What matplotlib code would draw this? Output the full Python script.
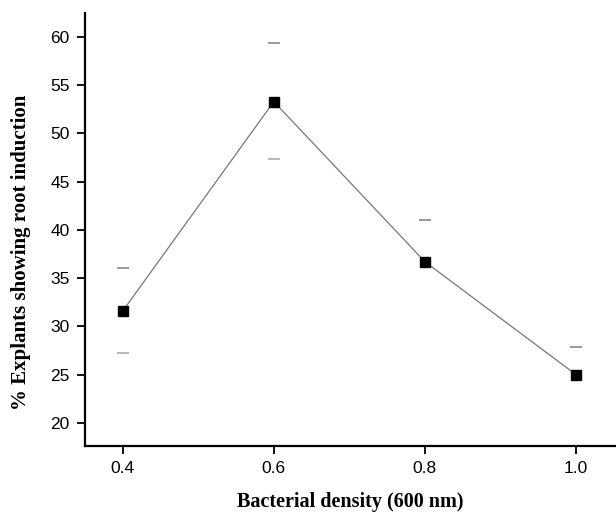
import numpy as np
import matplotlib
matplotlib.use("Agg")
import matplotlib.pyplot as plt

# bacterial density vs root induction
density = [0.4, 0.6, 0.8, 1.0]
pct_root = [31.6, 53.3, 36.7, 25.0]
err_upper = [36.1, 59.4, 41.0, 27.9]
err_lower = [27.2, 47.3, np.nan, np.nan]  # lower caps not visible for last two
x_ticks = [0.4, 0.6, 0.8, 1.0]
y_ticks = [20, 25, 30, 35, 40, 45, 50, 55, 60]

fig = plt.figure(figsize=(6.16, 5.15), dpi=100)
ax = fig.add_axes([0.138, 0.134, 0.862, 0.841])

ax.plot(density, pct_root, color="#777777", lw=0.9, zorder=2)
ax.plot(density, pct_root, linestyle="none", marker="s", ms=7.5,
        color="black", zorder=3)
ax.plot(density, err_upper, linestyle="none", marker="_", ms=9,
        mew=1.2, color="#888888")
ax.plot(density, err_lower, linestyle="none", marker="_", ms=9,
        mew=1.2, color="#aaaaaa")

ax.set_xlim(0.35, 1.053)
ax.set_ylim(17.6, 62.5)
ax.set_xticks(x_ticks)
ax.set_xticklabels(["%.1f" % v for v in x_ticks])
ax.set_yticks(y_ticks)

for s in ["top", "right"]:
    ax.spines[s].set_visible(False)
for s in ["left", "bottom"]:
    ax.spines[s].set_linewidth(1.6)

ax.tick_params(direction="out", length=6, width=1.3, labelsize=12.5, pad=5)
for lab in ax.get_xticklabels() + ax.get_yticklabels():
    lab.set_family("Liberation Sans")

ax.set_xlabel("Bacterial density (600 nm)", family="Liberation Serif",
              weight="bold", fontsize=14.5, labelpad=11)
ax.set_ylabel("% Explants showing root induction", family="Liberation Serif",
              weight="bold", fontsize=15)
ax.yaxis.set_label_coords(-0.102, 0.448)

fig.savefig("out.png", dpi=100)
